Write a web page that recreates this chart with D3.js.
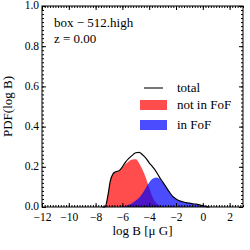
<!DOCTYPE html>
<html>
<head>
<meta charset="UTF-8">
<script src="https://d3js.org/d3.v7.min.js"></script>
<style>
  body { margin: 0; background: #fff; }
  text { font-family: "Liberation Serif", "DejaVu Serif", serif; }
</style>
</head>
<body>
<div id="chart"></div>
<script>
// log B grid and the three curves
var logB = [-7.5, -7.3, -7.1, -6.9, -6.7, -6.5, -6.25, -6.0, -5.75, -5.5, -5.25, -5.0,
            -4.75, -4.5, -4.25, -4.0, -3.75, -3.5, -3.25, -3.0, -2.75, -2.5, -2.25, -2.0,
            -1.75, -1.5, -1.25, -1.0, -0.75, -0.5, -0.25, 0.0, 0.25, 0.5];
var total = [0, 0, 0.05, 0.13, 0.165, 0.175, 0.18, 0.2, 0.225, 0.243, 0.258, 0.27,
             0.272, 0.26, 0.243, 0.22, 0.2, 0.178, 0.15, 0.125, 0.1, 0.075, 0.053, 0.04,
             0.031, 0.026, 0.022, 0.019, 0.016, 0.014, 0.011, 0.007, 0.002, 0];
var notInFoF = [0, 0, 0.048, 0.128, 0.162, 0.172, 0.178, 0.195, 0.215, 0.228, 0.236, 0.237,
                0.218, 0.185, 0.145, 0.095, 0.05, 0.022, 0.008, 0.002, 0, 0, 0, 0,
                0, 0, 0, 0, 0, 0, 0, 0, 0, 0];
var inFoF = [0, 0, 0, 0, 0, 0, 0, 0.002, 0.006, 0.012, 0.02, 0.032,
             0.046, 0.068, 0.095, 0.122, 0.14, 0.147, 0.142, 0.122, 0.098, 0.074, 0.053, 0.04,
             0.031, 0.026, 0.022, 0.019, 0.016, 0.013, 0.01, 0.006, 0.002, 0];
var xTicks = [-12, -10, -8, -6, -4, -2, 0, 2];
var yTicks = [0, 0.2, 0.4, 0.6, 0.8, 1.0];

var margin = {top: 6, right: 7, bottom: 43, left: 42},
    width = 250 - margin.left - margin.right,
    height = 250 - margin.top - margin.bottom;

var svg = d3.select("#chart").append("svg")
    .attr("width", 250).attr("height", 250)
  .append("g")
    .attr("transform", "translate(" + margin.left + "," + margin.top + ")");

var x = d3.scaleLinear().domain([-12, 3]).range([0, width]);
var y = d3.scaleLinear().domain([0, 1]).range([height, 0]);

var pts = function(arr) { return logB.map(function(v, i) { return [v, arr[i]]; }); };

var area = d3.area()
    .x(function(d) { return x(d[0]); })
    .y0(y(0))
    .y1(function(d) { return y(d[1]); })
    .curve(d3.curveMonotoneX);
var line = d3.line()
    .x(function(d) { return x(d[0]); })
    .y(function(d) { return y(d[1]); })
    .curve(d3.curveMonotoneX);

svg.append("path").datum(pts(notInFoF)).attr("d", area)
    .attr("fill", "red").attr("fill-opacity", 0.7);
svg.append("path").datum(pts(inFoF)).attr("d", area)
    .attr("fill", "blue").attr("fill-opacity", 0.7);
svg.append("path").datum(pts(total)).attr("d", line)
    .attr("fill", "none").attr("stroke", "#000").attr("stroke-width", 1.2);

// axes, ticks pointing inward on all four sides
var minorX = d3.range(-12, 3.001, 0.2), minorY = d3.range(0, 1.001, 0.02);
function styleAxis(g) {
  g.select(".domain").remove();
  g.selectAll("line").attr("stroke", "#000");
  g.selectAll("text").style("font-size", "11.5px").attr("fill", "#000");
}
svg.append("g").attr("transform", "translate(0," + height + ")")
    .call(d3.axisBottom(x).tickValues(minorX).tickSize(-2).tickFormat(""))
    .call(styleAxis);
svg.append("g").attr("transform", "translate(0," + height + ")")
    .call(d3.axisBottom(x).tickValues(xTicks).tickSize(-4).tickPadding(6)
      .tickFormat(function(d) { return d < 0 ? "\u2212" + Math.abs(d) : d; }))
    .call(styleAxis);
svg.append("g")
    .call(d3.axisTop(x).tickValues(minorX).tickSize(-2).tickFormat(""))
    .call(styleAxis);
svg.append("g")
    .call(d3.axisTop(x).tickValues(xTicks).tickSize(-4).tickFormat(""))
    .call(styleAxis);
svg.append("g")
    .call(d3.axisLeft(y).tickValues(minorY).tickSize(-2).tickFormat(""))
    .call(styleAxis);
svg.append("g")
    .call(d3.axisLeft(y).tickValues(yTicks).tickSize(-4).tickPadding(3).tickFormat(d3.format(".1f")))
    .call(styleAxis)
    .selectAll("text").attr("dy", "0.25em");
svg.append("g").attr("transform", "translate(" + width + ",0)")
    .call(d3.axisRight(y).tickValues(minorY).tickSize(-2).tickFormat(""))
    .call(styleAxis);
svg.append("g").attr("transform", "translate(" + width + ",0)")
    .call(d3.axisRight(y).tickValues(yTicks).tickSize(-4).tickFormat(""))
    .call(styleAxis);

svg.append("rect").attr("width", width).attr("height", height)
    .attr("fill", "none").attr("stroke", "#000").attr("stroke-width", 1);

// labels
svg.append("text").attr("x", width / 2).attr("y", height + 28)
    .attr("text-anchor", "middle").style("font-size", "13px")
    .text("log B [\u03bc G]");

svg.append("text")
    .attr("transform", "translate(-30," + (height / 2) + ") rotate(-90)")
    .attr("text-anchor", "middle").style("font-size", "13px")
    .text("PDF(log B)");

svg.append("text").attr("x", 12).attr("y", 21).style("font-size", "13px")
    .text("box \u2212 512.high");
svg.append("text").attr("x", 12).attr("y", 37).style("font-size", "13px")
    .text("z = 0.00");

// legend
var legend = svg.append("g");
legend.append("line").attr("x1", 102).attr("x2", 121).attr("y1", 82).attr("y2", 82)
    .attr("stroke", "#555").attr("stroke-width", 1.6);
legend.append("text").attr("x", 135).attr("y", 86).style("font-size", "13px").text("total");
legend.append("rect").attr("x", 98).attr("y", 94).attr("width", 27).attr("height", 10)
    .attr("fill", "red").attr("fill-opacity", 0.7);
legend.append("text").attr("x", 135).attr("y", 103).style("font-size", "13px").text("not in FoF");
legend.append("rect").attr("x", 98).attr("y", 114).attr("width", 27).attr("height", 10)
    .attr("fill", "blue").attr("fill-opacity", 0.7);
legend.append("text").attr("x", 135).attr("y", 123).style("font-size", "13px").text("in FoF");
</script>
</body>
</html>
